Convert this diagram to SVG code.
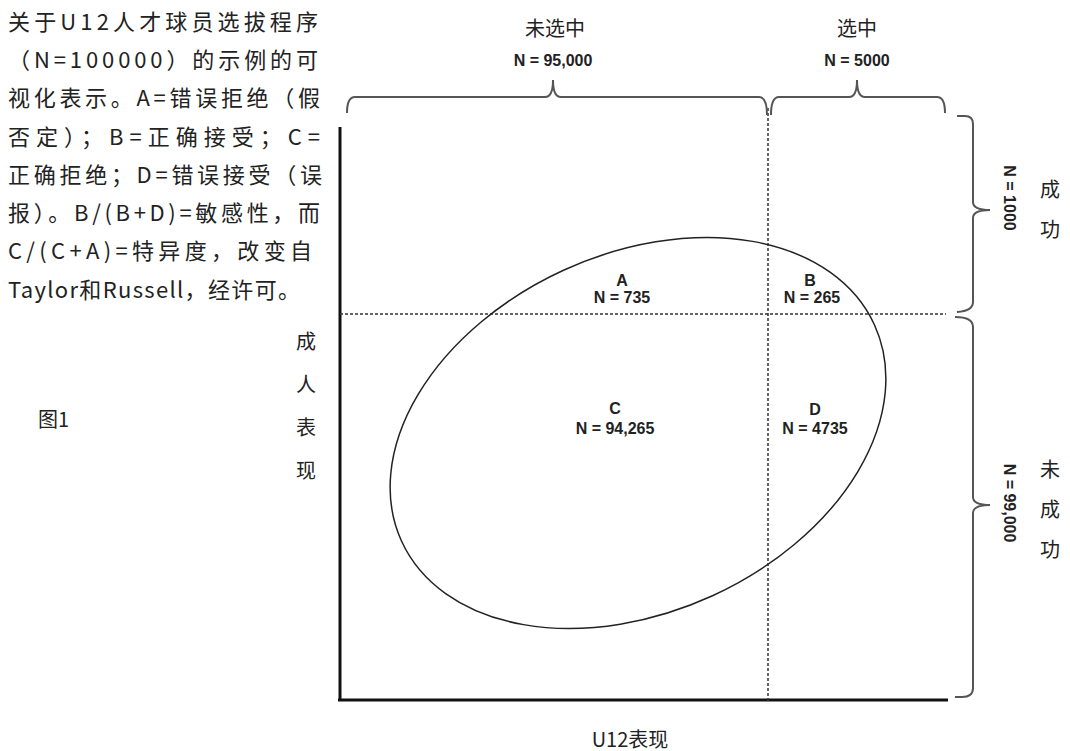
<svg xmlns="http://www.w3.org/2000/svg" width="1070" height="751" viewBox="0 0 1070 751">
<style>
.cjk{font-family:"Noto Sans CJK SC","Noto Sans",sans-serif;fill:#222;font-size:20px}
.para{font-family:"Noto Sans CJK SC","Noto Sans",sans-serif;fill:#222;font-size:22px}
.lbl{font-family:"Liberation Sans",Arial,sans-serif;fill:#222;font-size:16px;font-weight:bold;text-anchor:middle}
.top{font-family:"Liberation Sans",Arial,sans-serif;fill:#222;font-size:16px;font-weight:bold;text-anchor:middle}
.brace{fill:none;stroke:#555;stroke-width:2}
.axis{fill:none;stroke:#111;stroke-width:3}
.dash{fill:none;stroke:#333;stroke-width:1.5;stroke-dasharray:3 2}
</style>
<rect width="1070" height="751" fill="#fff"/>
<g id="caption">
<text class="para" x="8" y="30" textLength="310" lengthAdjust="spacing">关于U12人才球员选拔程序</text>
<text class="para" x="8" y="68" textLength="310" lengthAdjust="spacing">（N=100000）的示例的可</text>
<text class="para" x="8" y="106" textLength="312" lengthAdjust="spacing">视化表示。A=错误拒绝（假</text>
<text class="para" x="8" y="145" textLength="312" lengthAdjust="spacing">否定）；B=正确接受；C=</text>
<text class="para" x="8" y="183" textLength="314" lengthAdjust="spacing">正确拒绝；D=错误接受（误</text>
<text class="para" x="8" y="221" textLength="312" lengthAdjust="spacing">报）。B/(B+D)=敏感性，而</text>
<text class="para" x="8" y="259" textLength="304" lengthAdjust="spacing">C/(C+A)=特异度，改变自</text>
<text class="para" x="8" y="298" textLength="292" lengthAdjust="spacing">Taylor和Russell，经许可。</text>
<text class="cjk" x="38" y="427">图1</text>
</g>
<g id="axes">
<line class="axis" x1="340" y1="127" x2="340" y2="700"/>
<line class="axis" x1="338" y1="700" x2="948" y2="700"/>
</g>
<g id="ylabel">
<text class="cjk" x="296" y="349">成</text>
<text class="cjk" x="296" y="392">人</text>
<text class="cjk" x="296" y="435">表</text>
<text class="cjk" x="296" y="478">现</text>
</g>
<g id="xlabel">
<text class="cjk" x="630" y="747" text-anchor="middle">U12表现</text>
</g>
<g id="connectors">
<line class="dash" x1="768" y1="108" x2="768" y2="703"/>
<line class="dash" x1="340" y1="314" x2="946" y2="314"/>
<path class="brace" d="M347,113 Q347,97 355,97 L545,97 Q553,97 553,80 Q553,97 561,97 L759,97 Q767,97 767,115"/>
<path class="brace" d="M771,115 Q771,97 779,97 L849,97 Q857,97 857,80 Q857,97 865,97 L937,97 Q945,97 945,113"/>
<path class="brace" d="M957,116 L965,116 Q973,116 973,124 L973,202 Q973,210 990,210 Q973,210 973,218 L973,302 Q973,311 957,312"/>
<path class="brace" d="M955,317 Q973,317 973,327 L973,497 Q973,505 990,505 Q973,505 973,513 L973,688 Q973,697 962,697 L955,697"/>
</g>
<g id="ellipse">
<ellipse cx="638" cy="433" rx="260" ry="179" transform="rotate(-24.6 638 433)" fill="none" stroke="#222" stroke-width="1.5"/>
</g>
<g id="top-labels">
<text class="cjk" x="555" y="36" text-anchor="middle">未选中</text>
<text class="top" x="553" y="66">N = 95,000</text>
<text class="cjk" x="857" y="36" text-anchor="middle">选中</text>
<text class="top" x="857" y="66">N = 5000</text>
</g>
<g id="right-labels">
<text class="top" transform="translate(1004,198) rotate(90)">N = 1000</text>
<text class="top" transform="translate(1004,503) rotate(90)">N = 99,000</text>
<text class="cjk" x="1040" y="197">成</text>
<text class="cjk" x="1040" y="237">功</text>
<text class="cjk" x="1040" y="477">未</text>
<text class="cjk" x="1040" y="517">成</text>
<text class="cjk" x="1040" y="557">功</text>
</g>
<g id="cell-A"><text class="lbl" x="622" y="286">A</text><text class="lbl" x="622" y="303">N = 735</text></g>
<g id="cell-B"><text class="lbl" x="810" y="286">B</text><text class="lbl" x="812" y="303">N = 265</text></g>
<g id="cell-C"><text class="lbl" x="615" y="414">C</text><text class="lbl" x="615" y="434">N = 94,265</text></g>
<g id="cell-D"><text class="lbl" x="815" y="415">D</text><text class="lbl" x="815" y="434">N = 4735</text></g>
</svg>
